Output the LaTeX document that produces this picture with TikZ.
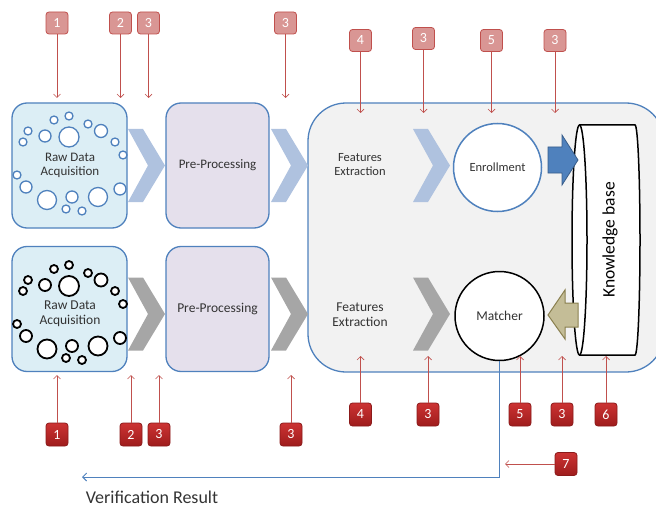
\documentclass[tikz,border=0pt]{standalone}
\usepackage{fontspec}
\setmainfont{Carlito}
\usetikzlibrary{arrows.meta}
\definecolor{bblue}{HTML}{4F81BD}
\definecolor{rawfill}{HTML}{DCEEF5}
\definecolor{prefill}{HTML}{E5E0EC}
\definecolor{bigfill}{HTML}{F2F2F2}
\definecolor{chevblue}{HTML}{AFC2DF}
\definecolor{chevgray}{HTML}{A6A6A6}
\definecolor{redline}{HTML}{C0504D}
\definecolor{badgelight}{HTML}{D99694}
\definecolor{badgeedge}{HTML}{C0504D}
\definecolor{darktop}{HTML}{CC3333}
\definecolor{darkbot}{HTML}{9E1C1C}
\definecolor{darkedge}{HTML}{8B1A1A}
\definecolor{khaki}{HTML}{C4BD97}
\definecolor{khakiedge}{HTML}{8A8050}
\definecolor{arrowedge}{HTML}{385D8A}
\definecolor{txt}{HTML}{333333}
\tikzset{
  rawbox/.style={draw=bblue, line width=1.3pt, fill=rawfill, rounded corners=15pt, minimum width=115pt, minimum height=125pt, inner sep=0pt},
  prebox/.style={draw=bblue, line width=1.3pt, fill=prefill, rounded corners=15pt, minimum width=103pt, minimum height=125pt, inner sep=0pt},
  lbl/.style={font=\fontsize{13}{14}\selectfont, align=center, text=txt, inner sep=0pt},
  ubadge/.style={draw=badgeedge, line width=0.8pt, fill=badgelight, rounded corners=3pt, minimum width=22pt, minimum height=22pt, inner sep=0pt, text=white, font=\fontsize{14}{14}\selectfont},
  lbadge/.style={draw=darkedge, line width=0.8pt, top color=darktop, bottom color=darkbot, rounded corners=3pt, minimum width=22pt, minimum height=23pt, inner sep=0pt, text=white, font=\fontsize{14}{14}\selectfont},
  rarrow/.style={draw=redline, line width=0.7pt, -{Straight Barb[length=3.5pt,width=7pt]}},
  bcirc/.style={draw=bblue, line width=1.3pt, fill=white},
  kcirc/.style={draw=black, line width=1.8pt, fill=white},
  chevron/.pic={\fill[pic actions] (0,-36.5) -- (15,-36.5) -- (37,0) -- (15,36.5) -- (0,36.5) -- (20,0) -- cycle;}
}
\begin{document}
\begin{tikzpicture}[x=1pt,y=-1pt]
\useasboundingbox (0,0) rectangle (656,508);
% big box
\draw[draw=bblue, line width=1.3pt, fill=bigfill, rounded corners=38pt] (308,103) rectangle (664,372);
% chevrons
\pic[fill=chevblue] at (128,165.5) {chevron};
\pic[fill=chevblue] at (271,165.5) {chevron};
\pic[fill=chevblue] at (413,165.5) {chevron};
\pic[fill=chevgray] at (128,314) {chevron};
\pic[fill=chevgray] at (271,314) {chevron};
\pic[fill=chevgray] at (413,314) {chevron};
% raw data boxes
\node[rawbox] (raw1) at (69.5,165.5) {};
\node[rawbox] (raw2) at (69.5,309) {};
\foreach \cx/\cy/\r in {54/120/4,69/116/4,88/124/4,28/131/4,45/136/6,69/137/10,101/131/6.5,23/142/4,115/142/4,123/155/4,17/175/4,26/187/6,47/200/9.5,72/197/6,98/197/9.5,120/189/6,66/209/4,82/211/4}{
  \draw[bcirc] (\cx,\cy) circle[radius=\r];
  \draw[kcirc] (\cx,\cy+149) circle[radius=\r];
}
\node[lbl] (rawt1) at (70,165) {Raw Data\\Acquisition};
\node[lbl, font=\fontsize{13.5}{15}\selectfont] (rawt2) at (70,314) {Raw Data\\Acquisition};
% pre-processing
\node[prebox, lbl, font=\fontsize{13}{14}\selectfont] (pre1) at (217.5,165.5) {Pre-Processing};
\node[prebox, lbl, font=\fontsize{13.5}{14}\selectfont] (pre2) at (217.5,309) {Pre-Processing};
% features
\node[lbl, font=\fontsize{12.5}{14}\selectfont] (fe1) at (360,165) {Features\\Extraction};
\node[lbl, font=\fontsize{13.5}{15}\selectfont] (fe2) at (360,314.5) {Features\\Extraction};
% circles
\node[circle, draw=bblue, line width=1.5pt, fill=white, minimum size=88pt, inner sep=0pt, font=\fontsize{12.5}{14}\selectfont, text=txt] (enr) at (497.5,167.5) {Enrollment};
\node[circle, draw=black, line width=1.5pt, fill=white, minimum size=89pt, inner sep=0pt, font=\fontsize{13.5}{14}\selectfont, text=txt] (mat) at (499.5,316) {Matcher};
% knowledge base cylinder
\draw[line width=1.5pt, fill=white] (579.5,125) -- (635,125) arc[start angle=-90, end angle=90, x radius=5pt, y radius=-115pt] -- (579.5,355) arc[start angle=90, end angle=270, x radius=7.5pt, y radius=-115pt] -- cycle;
\draw[line width=1.5pt] (579.5,125) arc[start angle=-90, end angle=90, x radius=7.5pt, y radius=-115pt];
\node[rotate=90, font=\fontsize{17.5}{18}\selectfont] (kb) at (610,240) {Knowledge base};
% block arrows
\draw[fill=bblue, draw=arrowedge, line width=0.8pt] (548,147) -- (562,147) -- (562,135) -- (578,160) -- (562,185) -- (562,173) -- (548,173) -- cycle;
\draw[fill=khaki, draw=khakiedge, line width=1pt] (578,303) -- (565,303) -- (565,290) -- (548,315) -- (565,339) -- (565,327) -- (578,327) -- cycle;
% verification
\coordinate (vr) at (82,477);
\draw[draw=bblue, line width=0.9pt, -{Straight Barb[length=4pt,width=8pt]}] (mat.south) |- (vr);
\node[font=\fontsize{18}{19}\selectfont, text=txt, anchor=base, inner sep=0pt] (vrt) at (152,503) {Verification Result};
% upper badges
\node[ubadge] (u1) at (57,23) {1};
\node[ubadge] (u2) at (120.5,23) {2};
\node[ubadge] (u3) at (148.5,23) {3};
\node[ubadge] (u4) at (285.5,23) {3};
\node[ubadge] (u5) at (360.5,40.5) {4};
\node[ubadge] (u6) at (423.5,38.5) {3};
\node[ubadge] (u7) at (491.5,40.5) {5};
\node[ubadge] (u8) at (555,40.5) {3};
\foreach \b/\x in {u1/57,u2/120.5,u3/148.5,u4/285.5}{
  \coordinate (\b e) at (\x,98);
  \draw[rarrow] (\b) -- (\b e);
}
\foreach \b/\x in {u5/360.5,u6/423.5,u7/491.5,u8/555}{
  \coordinate (\b e) at (\x,113);
  \draw[rarrow] (\b) -- (\b e);
}
% lower badges
\node[lbadge] (l1) at (57,434.5) {1};
\node[lbadge] (l2) at (131,434.5) {2};
\node[lbadge] (l3) at (159,434.5) {3};
\node[lbadge] (l4) at (291,434.5) {3};
\node[lbadge] (l5) at (360.5,414.5) {4};
\node[lbadge] (l6) at (428,414.5) {3};
\node[lbadge] (l7) at (520,414.5) {5};
\node[lbadge] (l8) at (562,414.5) {3};
\node[lbadge] (l9) at (606,414.5) {6};
\node[lbadge] (l10) at (566,464) {7};
\foreach \b/\x in {l1/57,l2/131,l3/159,l4/291}{
  \coordinate (\b e) at (\x,375);
  \draw[rarrow] (\b) -- (\b e);
}
\foreach \b/\x in {l5/360.5,l6/428,l7/520,l8/562,l9/606}{
  \coordinate (\b e) at (\x,356);
  \draw[rarrow] (\b) -- (\b e);
}
\coordinate (l10e) at (505,464);
\draw[rarrow] (l10) -- (l10e);
\end{tikzpicture}
\end{document}
